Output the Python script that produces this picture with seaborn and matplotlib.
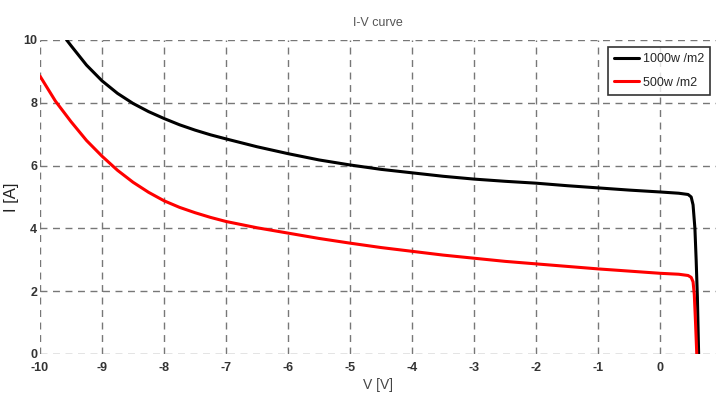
import matplotlib
matplotlib.use("Agg")
import matplotlib.pyplot as plt
import seaborn as sns
import pandas as pd

v_1000 = [-9.57, -9.5, -9.25, -9.0, -8.75, -8.5, -8.25, -8.0, -7.75, -7.5, -7.25, -7.0,
          -6.5, -6.0, -5.5, -5.0, -4.5, -4.0, -3.5, -3.0, -2.5, -2.0, -1.5, -1.0, -0.5,
          0.0, 0.3, 0.45, 0.5, 0.53, 0.56, 0.58, 0.6, 0.61, 0.62]
i_1000 = [10.0, 9.82, 9.2, 8.7, 8.3, 7.98, 7.72, 7.5, 7.3, 7.13, 6.98, 6.85,
          6.6, 6.38, 6.18, 6.02, 5.88, 5.77, 5.66, 5.57, 5.5, 5.44, 5.36, 5.29, 5.22,
          5.16, 5.12, 5.08, 5.0, 4.75, 4.0, 3.0, 1.8, 0.9, 0.0]

v_500 = [-10.0, -9.75, -9.5, -9.25, -9.0, -8.75, -8.5, -8.25, -8.0, -7.75, -7.5, -7.25,
         -7.0, -6.5, -6.0, -5.5, -5.0, -4.5, -4.0, -3.5, -3.0, -2.5, -2.0, -1.5, -1.0,
         -0.5, 0.0, 0.3, 0.45, 0.5, 0.53, 0.55, 0.57, 0.59]
i_500 = [8.85, 8.05, 7.4, 6.8, 6.3, 5.85, 5.47, 5.15, 4.88, 4.67, 4.5, 4.35,
         4.22, 4.02, 3.85, 3.68, 3.53, 3.39, 3.27, 3.15, 3.05, 2.95, 2.87, 2.79, 2.71,
         2.64, 2.57, 2.54, 2.5, 2.44, 2.3, 1.9, 1.0, 0.0]

labels = ["1000w /m2", "500w /m2"]
x_ticks = [-10, -9, -8, -7, -6, -5, -4, -3, -2, -1, 0]
y_ticks = [0, 2, 4, 6, 8, 10]

df = pd.concat([
    pd.DataFrame({"V": v_1000, "I": i_1000, "series": labels[0]}),
    pd.DataFrame({"V": v_500, "I": i_500, "series": labels[1]}),
])

sns.set_style("white")
plt.rcParams['font.family'] = ['Liberation Sans', 'DejaVu Sans']
plt.rcParams['axes.unicode_minus'] = False

fig = plt.figure(figsize=(7.16, 3.96), dpi=100)
ax = fig.add_axes([40/716, 1 - 354/396, 1 - 40/716, (354 - 40)/396])

sns.lineplot(data=df, x="V", y="I", hue="series", palette=["black", "#ff0000"],
             sort=False, estimator=None, linewidth=2.2, ax=ax)

ax.set_xlim(-10, 0.9)
ax.set_ylim(0, 10)
ax.set_xticks(x_ticks)
ax.set_yticks(y_ticks)
ax.tick_params(axis='both', labelsize=9, colors='#333333', length=0)
ax.tick_params(axis='x', pad=6)
ax.tick_params(axis='y', pad=2)
for t in ax.get_xticklabels() + ax.get_yticklabels():
    t.set_fontweight('bold')
ax.grid(True, linestyle=(0, (5, 4)), color='#777777', linewidth=1.0)
for s in ax.spines.values():
    s.set_visible(False)

ax.set_title("I-V curve", fontsize=9, color='#555555', pad=10)
ax.set_xlabel("V [V]", fontsize=10, color='#444444', labelpad=3)
ax.set_ylabel("I [A]", fontsize=12, color='#222222', labelpad=3)

leg = ax.legend(loc='upper right', fontsize=9, frameon=True, fancybox=False,
                edgecolor='black', handlelength=2.0, handletextpad=0.3,
                labelspacing=0.9, borderpad=0.5, borderaxespad=0.2,
                bbox_to_anchor=(0.995, 0.985))
leg.get_frame().set_linewidth(1.2)
leg.set_title(None)

fig.savefig("out.png", dpi=100)
